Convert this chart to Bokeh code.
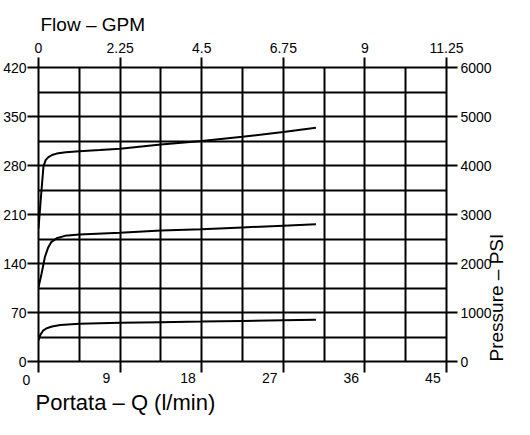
import math
from bokeh.plotting import figure
from bokeh.models import LinearAxis, Range1d, FixedTicker, Title
from bokeh.embed import file_html
from bokeh.resources import INLINE

# ---- data ----
flow_hi = [0.0, 0.3, 0.55, 0.8, 1.1, 1.5, 2.0, 3.0, 4.5, 6.75, 9.0, 13.5, 18.0, 22.5, 27.0, 30.6]
bar_hi = [190, 240, 279, 288, 292, 295, 297, 299, 300.5, 302, 304, 310, 315, 321, 328, 334]

flow_mid = [0.0, 0.33, 0.7, 1.07, 1.43, 2.0, 2.9, 4.5, 9.0, 13.5, 18.0, 22.5, 27.0, 30.6]
bar_mid = [106, 125, 149, 163, 171, 176, 179.5, 181.5, 184, 187, 189, 191.5, 194, 196]

flow_lo = [0.0, 0.2, 0.5, 0.9, 1.5, 2.4, 4.5, 9.0, 13.5, 18.0, 22.5, 27.0, 30.6]
bar_lo = [30, 38, 44, 47.5, 50, 52, 53.8, 55.2, 56.2, 57, 58, 59, 59.5]

x_ticks = [0, 9, 18, 27, 36, 45]
x_tick_labels = ["0", "9", "18", "27", "36", "45"]
gpm_tick_labels = ["0", "2.25", "4.5", "6.75", "9", "11.25"]
bar_ticks = [0, 70, 140, 210, 280, 350, 420]
psi_ticks = [0, 1000, 2000, 3000, 4000, 5000, 6000]
x_grid = [0, 4.5, 9, 13.5, 18, 22.5, 27, 31.5, 36, 40.5, 45]
y_grid = [0, 35, 70, 105, 140, 175, 210, 245, 280, 315, 350, 385, 420]

# ---- style ----
TICK_FONT = "Liberation Sans"
TITLE_FONT = "Liberation Sans"
TICK_SIZE = "14px"
LABEL_SHIFT = 1.5  # bottom labels sit left of their tick
X0, X1 = 0, 45

p = figure(frame_width=408, frame_height=294,
           x_range=Range1d(X0, X1), y_range=Range1d(0, 420),
           x_axis_location=None, y_axis_location=None,
           output_backend="svg", toolbar_location=None,
           min_border_left=37, min_border_top=67, min_border_right=69,
           min_border_bottom=20)
p.extra_y_ranges = {"psi": Range1d(0, 6000)}
p.outline_line_color = None
p.background_fill_color = "white"
p.border_fill_color = "white"

p.xgrid.ticker = FixedTicker(ticks=x_grid)
p.ygrid.ticker = FixedTicker(ticks=y_grid)
for g in (p.xgrid, p.ygrid):
    g.grid_line_color = "black"
    g.grid_line_width = 2
    g.grid_line_alpha = 1.0


def style_axis(ax, tick_out):
    ax.axis_line_color = "black"
    ax.axis_line_width = 2
    ax.major_tick_line_color = "black"
    ax.major_tick_line_width = 2
    ax.major_tick_out = tick_out
    ax.major_tick_in = 0
    ax.minor_tick_line_color = None
    ax.major_label_text_font = TICK_FONT
    ax.major_label_text_font_size = TICK_SIZE
    ax.major_label_text_color = "black"


# bottom: tick marks only
bx = LinearAxis(ticker=FixedTicker(ticks=x_ticks))
style_axis(bx, 11)
bx.major_label_text_font_size = "1px"
bx.major_label_text_color = None
bx.major_label_standoff = 0
p.add_layout(bx, "below")

# bottom: labels, shifted left of their ticks (those that stay inside the range)
shifted = [t - LABEL_SHIFT for t in x_ticks]
inside = [(s, l) for s, l in zip(shifted, x_tick_labels) if s >= X0]
outside = [(s, l) for s, l in zip(shifted, x_tick_labels) if s < X0]
bl = LinearAxis(ticker=FixedTicker(ticks=[s for s, _ in inside]),
                major_label_overrides={s: l for s, l in inside})
style_axis(bl, 0)
bl.axis_line_color = None
bl.major_tick_line_color = None
bl.major_label_standoff = 0
p.add_layout(bl, "below")

# the label left of the frame corner ("0"): a small title on the same row
for s, l in outside:
    t0 = Title(text=l, align="left", offset=-16, vertical_align="top",
               text_font=TICK_FONT, text_font_size=TICK_SIZE,
               text_font_style="normal", text_color="black")
    try:
        t0.standoff = -22
    except Exception:
        t0.standoff = 0
    p.add_layout(t0, "below")

p.add_layout(Title(text="Portata \u2013 Q (l/min)", align="left", offset=-3,
                   standoff=4,
                   text_font=TITLE_FONT, text_font_size="22px",
                   text_font_style="normal", text_color="black"), "below")

# top: GPM
tx = LinearAxis(ticker=FixedTicker(ticks=x_ticks),
                major_label_overrides={t: l for t, l in zip(x_ticks, gpm_tick_labels)})
style_axis(tx, 10)
tx.major_label_standoff = 5
p.add_layout(tx, "above")
p.add_layout(Title(text="Flow \u2013 GPM", align="left", offset=2, standoff=9,
                   text_font=TITLE_FONT, text_font_size="19px",
                   text_font_style="normal", text_color="black"), "above")

# left: bar
ly = LinearAxis(ticker=FixedTicker(ticks=bar_ticks))
style_axis(ly, 11)
ly.major_label_standoff = 1
p.add_layout(ly, "left")

# right: PSI, with the rotated axis title
ry = LinearAxis(y_range_name="psi", ticker=FixedTicker(ticks=psi_ticks),
                axis_label="Pressure \u2013 PSI")
style_axis(ry, 11)
ry.major_label_standoff = 3
ry.axis_label_standoff = 2
ry.axis_label_text_font = TITLE_FONT
ry.axis_label_text_font_size = "19px"
ry.axis_label_text_font_style = "normal"
ry.axis_label_text_color = "black"
props = ry.properties()
if "axis_label_orientation" in props:
    ry.axis_label_orientation = math.pi / 2
if "axis_label_align" in props:
    ry.axis_label_align = "start"
p.add_layout(ry, "right")

for fx, by in ((flow_hi, bar_hi), (flow_mid, bar_mid), (flow_lo, bar_lo)):
    p.line(fx, by, line_color="black", line_width=2)

open("out.html", "w").write(file_html(p, INLINE))
